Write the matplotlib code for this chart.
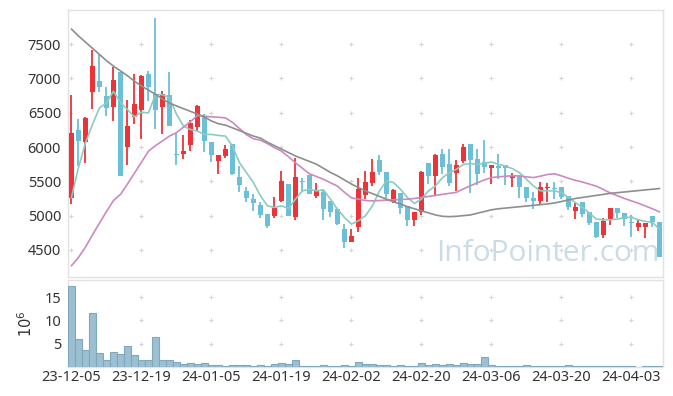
import matplotlib
matplotlib.use("Agg")
import matplotlib.pyplot as plt
import numpy as np

plt.rcParams['font.family'] = ['Noto Sans', 'DejaVu Sans']

# ---- data ----
tick_labels = ['23-12-05', '23-12-19', '24-01-05', '24-01-19', '24-02-02',
               '24-02-20', '24-03-06', '24-03-20', '24-04-03']

opens = [5264, 6242, 6072, 6798, 6958, 6750, 6580, 7098, 6000, 6445,
         6537, 7069, 6779, 6580, 6764, 5895, 5898, 6034, 6290, 6459,
         6072, 5796, 5869, 6038, 5569, 5356, 5249, 5153, 5022, 4998,
         5215, 5458, 4983, 5496, 5593, 5288, 5346, 5215, 5095, 4804,
         4610, 4828, 5298, 5472, 5811, 5641, 5201, 5337, 5143, 4940,
         5056, 5772, 5578, 5903, 5748, 5627, 5796, 6038, 5821, 5782,
         5700, 5724, 5733, 5554, 5578, 5424, 5264, 5216, 5399, 5409,
         5424, 5288, 5070, 5201, 5056, 4901, 4722, 4935, 5104, 5032,
         4901, 4838, 4838, 4998, 4901]
closes = [6208, 6087, 6426, 7185, 6871, 6566, 6982, 5578, 6300, 6634,
          7040, 6871, 6547, 6774, 6314, 5885, 5937, 6353, 6605, 6087,
          5883, 5879, 5966, 5608, 5448, 5259, 5182, 5012, 4843, 5104,
          5501, 4988, 5569, 5487, 5322, 5356, 5095, 5046, 4877, 4610,
          4698, 5395, 5491, 5637, 5637, 5322, 5375, 5104, 4940, 5046,
          5641, 5578, 5883, 5709, 5482, 5738, 6004, 5811, 5612, 5714,
          5733, 5700, 5695, 5578, 5419, 5254, 5216, 5424, 5424, 5385,
          5274, 5119, 5119, 5022, 4886, 4693, 4916, 5104, 5032, 4949,
          4891, 4886, 4886, 4901, 4402]
highs = [6764, 6411, 6440, 7418, 7355, 6876, 7166, 7098, 6682, 7064,
         7055, 7113, 7878, 6813, 7098, 6208, 6169, 6392, 6619, 6488,
         6072, 5885, 6024, 6038, 5724, 5424, 5317, 5201, 5022, 5274,
         5656, 5458, 5845, 5554, 5593, 5472, 5385, 5215, 5095, 4877,
         4804, 5554, 5651, 5830, 5879, 5641, 5385, 5337, 5143, 5056,
         5651, 5772, 5903, 5966, 5966, 5811, 6048, 6048, 5966, 6101,
         5733, 5903, 5733, 5617, 5578, 5424, 5346, 5491, 5472, 5491,
         5424, 5288, 5177, 5201, 5056, 4901, 4964, 5104, 5104, 5032,
         5007, 4949, 4886, 4998, 4901]
lows = [5167, 5724, 5762, 6556, 6798, 6459, 6387, 5578, 5743, 6329,
        6111, 6667, 6256, 6184, 6314, 5743, 5820, 5946, 6227, 5932,
        5782, 5603, 5845, 5593, 5351, 5201, 5070, 4959, 4819, 4959,
        5201, 4988, 4940, 5346, 5322, 5264, 4935, 4974, 4862, 4523,
        4610, 4756, 5240, 5433, 5588, 5264, 5191, 5022, 4843, 4843,
        5007, 5457, 5298, 5612, 5433, 5361, 5762, 5337, 5443, 5617,
        5457, 5530, 5448, 5424, 5264, 5201, 5095, 5167, 5201, 5249,
        5249, 5085, 4949, 4974, 4862, 4669, 4669, 4862, 4964, 4843,
        4683, 4780, 4669, 4828, 4402]

ma_short = [5264, 5700, 6060, 6330, 6570, 6643, 6813, 6650, 6547, 6440,
            6508, 6498, 6764, 6764, 6716, 6480, 6305, 6256, 6232, 6184,
            6184, 6169, 6160, 6014, 5772, 5627, 5482, 5288, 5143, 5119,
            5143, 5104, 5240, 5361, 5385, 5361, 5375, 5240, 5095, 4974,
            4877, 4925, 4998, 5143, 5361, 5506, 5482, 5385, 5264, 5177,
            5240, 5361, 5433, 5554, 5627, 5675, 5748, 5758, 5748, 5762,
            5782, 5748, 5724, 5685, 5627, 5530, 5433, 5361, 5361, 5361,
            5337, 5264, 5191, 5119, 5036, 4949, 4940, 4940, 4949, 4974,
            4974, 4940, 4916, 4901, 4804]
ma_mid = [4270, 4390, 4540, 4720, 4890, 5060, 5220, 5310, 5460, 5620,
          5780, 5940, 6020, 6090, 6160, 6210, 6290, 6370, 6460, 6450,
          6440, 6435, 6425, 6360, 6270, 6180, 6120, 6100, 6050, 5990,
          5940, 5860, 5770, 5690, 5610, 5570, 5530, 5480, 5430, 5340,
          5260, 5240, 5220, 5215, 5220, 5225, 5230, 5235, 5240, 5250,
          5265, 5280, 5295, 5310, 5325, 5340, 5390, 5435, 5480, 5520,
          5555, 5565, 5575, 5580, 5580, 5565, 5555, 5575, 5600, 5610,
          5580, 5545, 5515, 5490, 5460, 5430, 5380, 5330, 5290, 5250,
          5215, 5180, 5140, 5100, 5055]
ma_long = [7720, 7620, 7530, 7440, 7350, 7260, 7180, 7110, 7040, 6960,
           6890, 6830, 6770, 6700, 6640, 6600, 6560, 6520, 6480, 6440,
           6380, 6340, 6320, 6280, 6240, 6200, 6160, 6130, 6070, 6020,
           5970, 5920, 5870, 5830, 5790, 5750, 5690, 5630, 5580, 5520,
           5460, 5410, 5360, 5320, 5280, 5240, 5200, 5170, 5130, 5100,
           5070, 5040, 5010, 4990, 4985, 4990, 5000, 5010, 5035, 5060,
           5085, 5100, 5110, 5120, 5130, 5140, 5150, 5160, 5170, 5185,
           5205, 5230, 5250, 5265, 5280, 5295, 5310, 5325, 5335, 5345,
           5355, 5365, 5375, 5385, 5395]

volume_m = [17.4, 6.0, 3.6, 11.6, 3.0, 1.5, 3.2, 2.8, 4.5, 2.6,
            1.5, 1.5, 6.4, 1.5, 1.5, 1.1, 0.6, 0.85, 0.6, 0.85,
            0.45, 0.45, 0.2, 0.45, 0.45, 0.45, 0.2, 0.45, 0.2, 0.65,
            0.85, 0.65, 1.5, 0.2, 0.2, 0.2, 0.45, 0.2, 0.2, 0.45,
            0.2, 1.1, 0.65, 0.65, 0.45, 0.45, 0.2, 0.45, 0.2, 0.2,
            0.85, 0.45, 0.65, 0.45, 0.65, 0.45, 0.85, 0.65, 0.65, 2.1,
            0.45, 0.2, 0.15, 0.15, 0.15, 0.45, 0.15, 0.15, 0.15, 0.15,
            0.15, 0.45, 0.15, 0.15, 0.15, 0.15, 0.15, 0.15, 0.15, 0.15,
            0.15, 0.0, 0.15, 0.15, 0.15]

price_ticks = [4500, 5000, 5500, 6000, 6500, 7000, 7500]
vol_ticks = [5, 10, 15]

# ---- styling ----
UP = '#ee3338'
DOWN = '#6bbfd6'
GRID = '#d4d4d4'
FRAME = '#e2e2e2'
TXT = '#333333'

n = len(opens)
x = np.arange(n)
o = np.array(opens, float); c = np.array(closes, float)
h = np.array(highs, float); l = np.array(lows, float)
up = c > o
colors = np.where(up, UP, DOWN)

fig = plt.figure(figsize=(6.73, 3.96), dpi=100)
ax = fig.add_axes([0.101, 0.3005, 0.884, 0.6745])
axv = fig.add_axes([0.101, 0.0732, 0.884, 0.2198])

xlim = (-0.5, n - 0.5)
xt = np.arange(0, n, 10)

# grid "+" markers
gx, gy = np.meshgrid(xt, price_ticks)
ax.scatter(gx.ravel(), gy.ravel(), marker='+', s=12, color=GRID, linewidths=0.8, zorder=1)

# watermark (behind candles)
ax.text(0.806, 0.088, 'InfoPointer.com', transform=ax.transAxes, ha='center', va='center',
        fontsize=21.5, color='#cadce7', zorder=2, family=['Open Sans', 'DejaVu Sans'])

# wicks and bodies
ax.vlines(x, l, h, colors=colors, linewidth=1.3, zorder=3)
body_bottom = np.minimum(o, c)
body_h = np.maximum(np.abs(c - o), 12)
ax.bar(x, body_h, bottom=body_bottom, width=0.82, color=colors, linewidth=0, zorder=4)

# moving averages
ax.plot(x, ma_short, color='#8ccbc0', lw=1.2, zorder=5)
ax.plot(x, ma_mid, color='#c98bc2', lw=1.2, zorder=5)
ax.plot(x, ma_long, color='#8e8e8e', lw=1.2, zorder=5)

ax.set_xlim(*xlim)
ax.set_ylim(4105, 8000)
ax.set_yticks(price_ticks)
ax.set_yticklabels([str(t) for t in price_ticks])
ax.set_xticks([])
ax.tick_params(axis='y', length=0, labelsize=10.5, colors=TXT, pad=5)
for s in ax.spines.values():
    s.set_color(FRAME)
    s.set_linewidth(1.0)

# volume
vx, vy = np.meshgrid(xt[1:], vol_ticks)
axv.scatter(vx.ravel(), vy.ravel(), marker='+', s=12, color=GRID, linewidths=0.8, zorder=1)
axv.bar(x, volume_m, width=1.0, color='#9cc0d1', edgecolor='#7ea8bb', linewidth=0.8, zorder=3)
axv.set_xlim(*xlim)
axv.set_ylim(0, 18.7)
axv.set_yticks(vol_ticks)
axv.set_yticklabels([str(t) for t in vol_ticks])
axv.set_xticks(xt)
axv.set_xticklabels(tick_labels)
axv.tick_params(axis='both', length=0, labelsize=10.5, colors=TXT)
axv.tick_params(axis='x', pad=2)
axv.tick_params(axis='y', pad=5)
axv.set_ylabel(r'$10^6$', color=TXT, fontsize=10.5, labelpad=6)
for s in axv.spines.values():
    s.set_color(FRAME)
    s.set_linewidth(1.0)

fig.savefig('out.png', dpi=100)
